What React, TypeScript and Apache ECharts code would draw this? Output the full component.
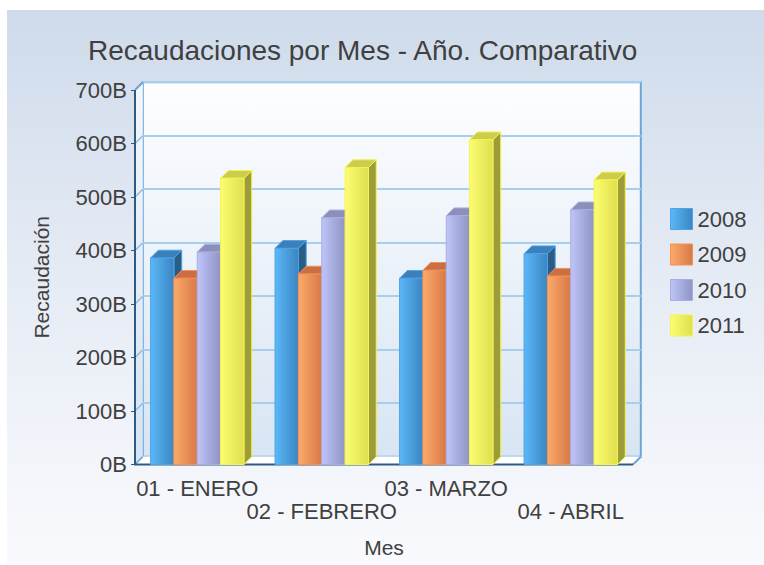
import React, { useEffect, useRef } from "react";
import * as echarts from "echarts";

const categories = ["01 - ENERO", "02 - FEBRERO", "03 - MARZO", "04 - ABRIL"];
const years = ["2008", "2009", "2010", "2011"];
const v2008 = [386, 404, 348, 394];
const v2009 = [348, 356, 363, 352];
const v2010 = [397, 461, 465, 476];
const v2011 = [535, 555, 607, 532];
const yTicks = [0, 100, 200, 300, 400, 500, 600, 700];

const seriesValues = [v2008, v2009, v2010, v2011];

const palette = [
  { light: "#5bb8f8", dark: "#3b85c2", top: "#3b80ba", side: "#2b5c86", stroke: "#4ca4e6" },
  { light: "#fcaa6a", dark: "#d87848", top: "#cb6f42", side: "#a65832", stroke: "#f39056" },
  { light: "#bfc4fa", dark: "#8f94c4", top: "#8b8fba", side: "#6c7097", stroke: "#a9aee0" },
  { light: "#fdfd72", dark: "#dede4e", top: "#cccc4e", side: "#9c9c3a", stroke: "#f4f44e" },
];

const D = 7.8;
const FONT = "Liberation Sans, Arial, sans-serif";
const TXT = "#404040";

function grad(c: any) {
  return new echarts.graphic.LinearGradient(0, 0, 1, 0, [
    { offset: 0, color: c.light },
    { offset: 1, color: c.dark },
  ]);
}

function makeBarRender(si: number) {
  const col = palette[si];
  return (params: any, api: any) => {
    const cat = api.value(0);
    const val = api.value(1);
    const base = api.coord([cat, 0]);
    const top = api.coord([cat, val]);
    const band = api.size([1, 0])[0];
    const bw = (band * 0.75) / 4;
    const x0 = base[0] - 2 * bw + si * bw;
    const yt = top[1];
    const yb = base[1];
    return {
      type: "group",
      children: [
        {
          type: "polygon",
          shape: { points: [[x0 + bw, yt], [x0 + bw + D, yt - D], [x0 + bw + D, yb - D], [x0 + bw, yb]] },
          style: { fill: col.side, stroke: col.stroke, lineWidth: 1 },
        },
        {
          type: "polygon",
          shape: { points: [[x0, yt], [x0 + D, yt - D], [x0 + bw + D, yt - D], [x0 + bw, yt]] },
          style: { fill: col.top, stroke: col.stroke, lineWidth: 1 },
        },
        {
          type: "rect",
          shape: { x: x0, y: yt, width: bw, height: yb - yt },
          style: { fill: grad(col), stroke: col.stroke, lineWidth: 1 },
        },
      ],
    };
  };
}

function wallsRender(params: any, api: any) {
  const cs = params.coordSys;
  const L = cs.x;
  const R = cs.x + cs.width;
  const T = cs.y;
  const B = cs.y + cs.height;
  const children: any[] = [];
  children.push({
    type: "polygon",
    shape: { points: [[L, T], [L + D, T - D], [L + D, B - D], [L, B]] },
    style: {
      fill: new echarts.graphic.LinearGradient(0, 0, 0, 1, [
        { offset: 0, color: "#f4f7fb" },
        { offset: 1, color: "#d6e3f2" },
      ]),
    },
  });
  yTicks.forEach((t) => {
    const p = api.coord([0, t]);
    children.push({
      type: "line",
      shape: { x1: L, y1: p[1], x2: L + D, y2: p[1] - D },
      style: { stroke: "#8dbbe3", lineWidth: 1.5 },
    });
  });
  children.push({
    type: "polygon",
    shape: { points: [[L, B], [R, B], [R + D, B - D], [L + D, B - D]] },
    style: { fill: "#ffffff" },
  });
  children.push({
    type: "line",
    shape: { x1: R, y1: B, x2: R + D, y2: B - D },
    style: { stroke: "#6ca6d9", lineWidth: 2 },
  });
  children.push({
    type: "line",
    shape: { x1: L, y1: B, x2: L + D, y2: B - D },
    style: { stroke: "#6ca6d9", lineWidth: 1.5 },
  });
  children.push({
    type: "line",
    shape: { x1: L, y1: T, x2: L + D, y2: T - D },
    style: { stroke: "#6ca6d9", lineWidth: 2 },
  });
  children.push({
    type: "polyline",
    shape: { points: [[L, T], [L, B], [R, B]] },
    style: { stroke: "#2f5b82", lineWidth: 2, fill: "none" },
  });
  return { type: "group", children };
}

export default function App() {
  const ref = useRef<HTMLDivElement>(null);
  useEffect(() => {
    if (!ref.current) return;
    const chart = echarts.init(ref.current, undefined, { renderer: "svg" });
    const gridL = 128;
    const gridT = 80;
    const gridW = 498;
    const gridH = 374.5;
    const option: any = {
      animation: false,
      backgroundColor: new echarts.graphic.LinearGradient(0, 0, 0, 1, [
        { offset: 0, color: "#cfdbeb" },
        { offset: 0.5, color: "#e6ecf5" },
        { offset: 1, color: "#f9fafd" },
      ]),
      title: {
        text: "Recaudaciones por Mes - Año. Comparativo",
        left: 81,
        top: 26,
        padding: 0,
        textStyle: { fontFamily: FONT, fontSize: 28, fontWeight: "normal", color: TXT },
      },
      legend: {
        orient: "vertical",
        left: 663,
        top: 198,
        padding: 0,
        itemWidth: 22,
        itemHeight: 21,
        itemGap: 13.5,
        icon: "rect",
        textStyle: { fontFamily: FONT, fontSize: 22, color: TXT },
        data: years.map((y, i) => ({
          name: y,
          itemStyle: { color: grad(palette[i]), borderColor: palette[i].stroke, borderWidth: 1 },
        })),
      },
      grid: [
        { left: gridL, top: gridT, width: gridW, height: gridH },
        {
          left: gridL + D,
          top: gridT - D,
          width: gridW,
          height: gridH,
          show: true,
          backgroundColor: new echarts.graphic.LinearGradient(0, 0, 0, 1, [
            { offset: 0, color: "#fdfeff" },
            { offset: 1, color: "#d8e5f3" },
          ]),
          borderColor: "#6ca6d9",
          borderWidth: 2,
        },
      ],
      xAxis: [
        {
          type: "category",
          gridIndex: 0,
          data: categories,
          axisLine: { show: false },
          axisTick: { show: false },
          axisLabel: {
            interval: 0,
            margin: 12,
            fontFamily: FONT,
            fontSize: 22,
            lineHeight: 23,
            color: TXT,
            formatter: (v: string, i: number) => (i % 2 === 1 ? "\n" + v : v),
          },
          name: "Mes",
          nameLocation: "middle",
          nameGap: 72,
          nameTextStyle: { fontFamily: FONT, fontSize: 21, color: TXT },
        },
        {
          type: "category",
          gridIndex: 1,
          data: categories,
          show: false,
        },
      ],
      yAxis: [
        {
          type: "value",
          gridIndex: 0,
          min: 0,
          max: 700,
          interval: 100,
          axisLine: { show: false },
          axisTick: { show: true, length: 4, lineStyle: { color: "#2f5b82", width: 1 } },
          splitLine: { show: false },
          axisLabel: {
            margin: 8,
            fontFamily: FONT,
            fontSize: 22,
            color: TXT,
            formatter: "{value}B",
          },
          name: "Recaudación",
          nameLocation: "middle",
          nameRotate: 90,
          nameGap: 83,
          nameTextStyle: { fontFamily: FONT, fontSize: 21, color: TXT },
        },
        {
          type: "value",
          gridIndex: 1,
          min: 0,
          max: 700,
          interval: 100,
          axisLine: { show: false },
          axisTick: { show: false },
          axisLabel: { show: false },
          splitLine: { show: true, lineStyle: { color: "#a9cdeb", width: 2 } },
        },
      ],
      series: [
        {
          type: "custom",
          name: "walls",
          xAxisIndex: 0,
          yAxisIndex: 0,
          silent: true,
          z: 1,
          data: [[0, 0]],
          renderItem: wallsRender,
        },
        ...years.map((y, si) => ({
          type: "custom",
          name: y,
          xAxisIndex: 0,
          yAxisIndex: 0,
          z: 2,
          itemStyle: { color: palette[si].light },
          data: seriesValues[si].map((v, i) => [i, v]),
          renderItem: makeBarRender(si),
        })),
      ],
    };
    chart.setOption(option);
    return () => chart.dispose();
  }, []);
  return (
    <div
      ref={ref}
      style={{
        width: 757,
        height: 555,
        position: "absolute",
        left: 7,
        top: 10,
        background: "linear-gradient(#cfdbeb, #e6ecf5, #f9fafd)",
      }}
    />
  );
}
